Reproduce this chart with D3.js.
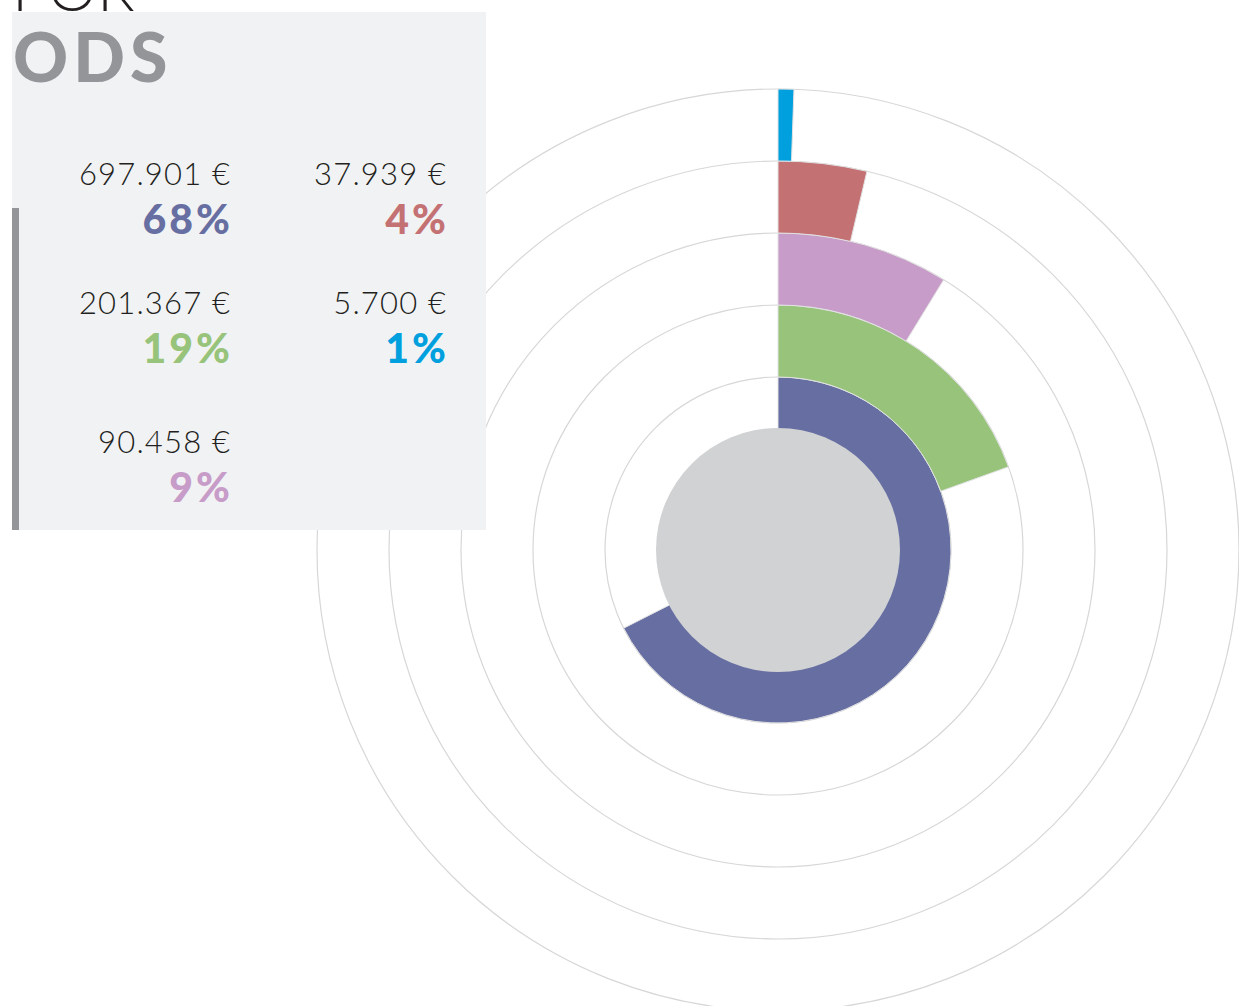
<!DOCTYPE html>
<html>
<head>
<meta charset="utf-8">
<script src="https://cdn.jsdelivr.net/npm/d3@7"></script>
<style>
  html, body { margin: 0; padding: 0; background: #ffffff; }
  svg { display: block; }
</style>
</head>
<body>
<script>
// Budget split by SDG (ODS), one ring per category
const categories = ["ods-a", "ods-b", "ods-c", "ods-d", "ods-e"];
const amounts = [697901, 201367, 90458, 37939, 5700];
const amountLabels = ["697.901 €", "201.367 €", "90.458 €", "37.939 €", "5.700 €"];
const percentLabels = ["68%", "19%", "9%", "4%", "1%"];
const colors = ["#676fa2", "#97c47a", "#c79cc8", "#c47174", "#00a0df"];

const W = 1239, H = 1006;
const cx = 778, cy = 550;

const svg = d3.select("body").append("svg")
  .attr("width", W).attr("height", H);

const total = d3.sum(amounts);
const angle = d3.scaleLinear().domain([0, total]).range([0, 2 * Math.PI]);
const radius = d3.scaleLinear().domain([0, categories.length]).range([101, 461]);

const chart = svg.append("g").attr("transform", `translate(${cx},${cy})`);

// concentric guide rings
chart.selectAll("circle.grid")
  .data(d3.range(1, categories.length + 1))
  .join("circle")
  .attr("class", "grid")
  .attr("r", d => radius(d))
  .attr("fill", "none")
  .attr("stroke", "#d7d7d8")
  .attr("stroke-width", 1.2);

const arc = d3.arc()
  .innerRadius((d, i) => radius(i))
  .outerRadius((d, i) => radius(i + 1))
  .startAngle(0)
  .endAngle(d => angle(d));

chart.selectAll("path.bar")
  .data(amounts)
  .join("path")
  .attr("class", "bar")
  .attr("d", (d, i) => arc(d, i))
  .attr("fill", (d, i) => colors[i])
  .attr("stroke", "#e2e2e3")
  .attr("stroke-width", 1);

// grey hub
chart.append("circle")
  .attr("r", 122)
  .attr("fill", "#d1d2d4");

// title above the panel
svg.append("text")
  .attr("x", 12).attr("y", 11)
  .attr("font-family", "Lato, sans-serif")
  .attr("font-weight", 300)
  .attr("font-size", 62)
  .attr("fill", "#231f20")
  .text("POR");

// info panel
svg.append("rect")
  .attr("x", 12).attr("y", 12)
  .attr("width", 474).attr("height", 518)
  .attr("fill", "#f1f2f4");

svg.append("rect")
  .attr("x", 12).attr("y", 208)
  .attr("width", 7).attr("height", 322)
  .attr("fill", "#939598");

svg.append("text")
  .attr("x", 13).attr("y", 82)
  .attr("font-family", "Lato, sans-serif")
  .attr("font-weight", 900)
  .attr("font-size", 68)
  .attr("letter-spacing", 5)
  .attr("fill", "#939598")
  .text("ODS");

// legend positions: two columns, left column holds the first three
const legendX = [230, 230, 230, 446, 446];
const legendY = [185, 314, 453, 185, 314];

const legend = svg.selectAll("g.legend")
  .data(categories)
  .join("g")
  .attr("class", "legend")
  .attr("transform", (d, i) => `translate(${legendX[i]},${legendY[i]})`);

legend.append("text")
  .attr("text-anchor", "end")
  .attr("x", 1.2)
  .attr("font-family", "Lato, sans-serif")
  .attr("font-weight", 300)
  .attr("font-size", 31)
  .attr("letter-spacing", 1.2)
  .attr("fill", "#231f20")
  .text((d, i) => amountLabels[i]);

legend.append("text")
  .attr("text-anchor", "end")
  .attr("x", 3)
  .attr("y", 49)
  .attr("font-family", "Lato, sans-serif")
  .attr("font-weight", 900)
  .attr("font-size", 41)
  .attr("letter-spacing", 3)
  .attr("fill", (d, i) => colors[i])
  .text((d, i) => percentLabels[i]);
</script>
</body>
</html>
